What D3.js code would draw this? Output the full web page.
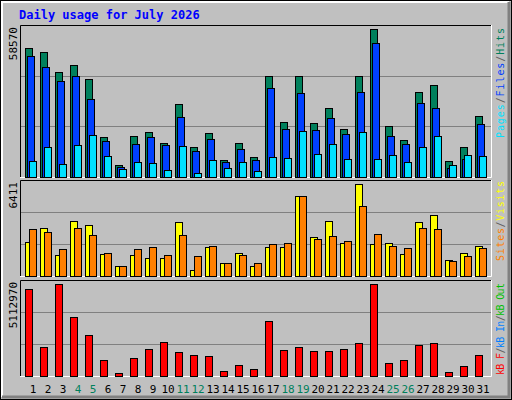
<!DOCTYPE html>
<html>
<head>
<meta charset="utf-8">
<script src="https://cdn.jsdelivr.net/npm/d3@7"></script>
<style>
  body { margin: 0; background: #fff; }
  svg text { font-family: "DejaVu Sans Mono", monospace; }
</style>
</head>
<body>
<svg id="chart" width="512" height="400"></svg>
<script>
// Daily usage chart, webalizer style
const days = d3.range(1, 32);
const weekends = [4, 5, 11, 12, 18, 19, 25, 26];

const hits = [51030, 49440, 41510, 44290, 38740, 15740, 4640, 16140, 17720, 13360, 28830, 11780, 17330, 6620, 13360, 7810,
  39930, 21690, 39930, 21290, 27240, 18910, 39930, 58570, 20100, 14550, 33580, 36360, 6220, 11780, 24070];
const files = [47860, 43500, 37950, 39930, 30810, 14150, 4080, 12970, 15740, 12570, 23670, 10190, 14950, 5830, 10980, 6620,
  35170, 18910, 33190, 18520, 23270, 16930, 33580, 53010, 16140, 12970, 29220, 27240, 3450, 7020, 20900];
const pages = [6220, 11780, 5040, 12570, 16530, 8210, 3050, 5830, 5430, 2660, 12170, 1470, 6620, 3450, 5830, 2260,
  7810, 7410, 18120, 9000, 12970, 7020, 17720, 7020, 8600, 5830, 11780, 16140, 4640, 8600, 8210];

const visits = [2370, 3345, 1463, 3833, 3554, 1533, 697, 1463, 1254, 1254, 3763, 418, 2021, 906, 1603, 697,
  2021, 2021, 5575, 2718, 3833, 2300, 6411, 2230, 2300, 1533, 3763, 4251, 1115, 1603, 2091];
const sites = [3275, 3066, 1882, 3345, 2857, 1603, 697, 1882, 2021, 1463, 2857, 1394, 2091, 906, 1463, 906,
  2230, 2300, 5575, 2578, 2788, 2439, 4878, 2927, 2091, 1951, 3345, 3275, 1045, 1394, 1951];

const kbytes = [4833000, 1586000, 5112970, 3265500, 2257900, 914300, 186600, 1026300, 1474100, 1866000, 1306200, 1194200,
  1138300, 298600, 634400, 410500, 3041600, 1418200, 1586000, 1362200, 1362200, 1474100, 1810000, 5112970, 746400,
  914300, 1698100, 1810000, 242600, 578500, 1194200];

const svg = d3.select('#chart');

// outer frame
svg.append('rect').attr('x', 0.5).attr('y', 0.5).attr('width', 511).attr('height', 399)
  .attr('fill', '#c0c0c0').attr('stroke', '#000');
svg.append('path').attr('d', 'M2,397V2H509').attr('fill', 'none').attr('stroke', '#fff').attr('stroke-width', 2);
svg.append('path').attr('d', 'M2,397H509V2').attr('fill', 'none').attr('stroke', '#808080').attr('stroke-width', 3);

svg.append('text').attr('x', 19).attr('y', 19)
  .attr('fill', '#0000ff').style('font-weight', 'bold').style('font-size', '12px')
  .text('Daily usage for July 2026');

const x = d3.scaleLinear().domain([1, 31]).range([25, 475]);
const left = 20, right = 491;

function panel(top, bottom, max, label, legend, legendTop, legendLen) {
  const y = d3.scaleLinear().domain([0, max]).range([bottom, top + 4]);
  const g = svg.append('g');
  g.append('rect').attr('x', left).attr('y', top).attr('width', right - left).attr('height', bottom - top)
    .attr('fill', '#c0c0c0');
  g.append('path').attr('d', `M${left + 0.5},${bottom}V${top + 0.5}H${right}`).attr('fill', 'none').attr('stroke', '#000');
  g.append('path').attr('d', `M${left},${bottom + 0.5}H${right + 0.5}V${top}`).attr('fill', 'none').attr('stroke', '#fff');
  [1, 2].forEach(i => {
    const yy = Math.round(top + (bottom - top) * i / 3) + 0.5;
    g.append('line').attr('x1', left + 1).attr('x2', right).attr('y1', yy).attr('y2', yy)
      .attr('stroke', '#808080');
  });
  g.append('text').attr('transform', `translate(${left - 3},${top + 2}) rotate(-90)`)
    .attr('text-anchor', 'end').style('font-size', '11px').attr('fill', '#000').text(label);
  const t = g.append('text').attr('transform', `translate(${right + 13},${legendTop}) rotate(-90)`)
    .attr('text-anchor', 'end').style('font-size', '10px')
    .attr('textLength', legendLen).attr('lengthAdjust', 'spacing');
  legend.forEach(([s, c]) => t.append('tspan').attr('fill', c).text(s));
  return { g, y, bottom };
}

function bars(p, data, dx, w, color) {
  p.g.selectAll(null).data(data).enter().append('rect')
    .attr('x', (d, i) => x(days[i]) + dx + 0.5)
    .attr('y', d => Math.round(p.y(d)) + 0.5)
    .attr('width', w - 1)
    .attr('height', d => Math.max(0, p.bottom - Math.round(p.y(d))))
    .attr('fill', color).attr('stroke', '#000');
}

const p1 = panel(25, 177, 58570, '58570',
  [['Pages', '#00e0ff'], ['/', '#606060'], ['Files', '#0040ff'], ['/', '#606060'], ['Hits', '#00805c']], 28, 110);
bars(p1, hits, 0, 8, '#00805c');
bars(p1, files, 2, 8, '#0040ff');
bars(p1, pages, 4, 8, '#00e0ff');

const p2 = panel(180, 276, 6411, '6411',
  [['Sites', '#ff8000'], ['/', '#606060'], ['Visits', '#ffff00']], 181, 80);
bars(p2, visits, 0, 8, '#ffff00');
bars(p2, sites, 4, 8, '#ff8000');

const p3 = panel(280, 376, 5112970, '5112970',
  [['kB F', '#ff0000'], ['/', '#606060'], ['kB In', '#0080ff'], ['/', '#606060'], ['kB Out', '#00c000']], 283, 92);
bars(p3, kbytes, 0, 8, '#ff0000');

svg.selectAll('.day').data(days).enter().append('text')
  .attr('x', d => x(d) + 8).attr('y', 393)
  .attr('text-anchor', 'middle').style('font-size', '11px')
  .attr('fill', d => weekends.includes(d) ? '#00805c' : '#000')
  .text(d => d);
</script>
</body>
</html>
